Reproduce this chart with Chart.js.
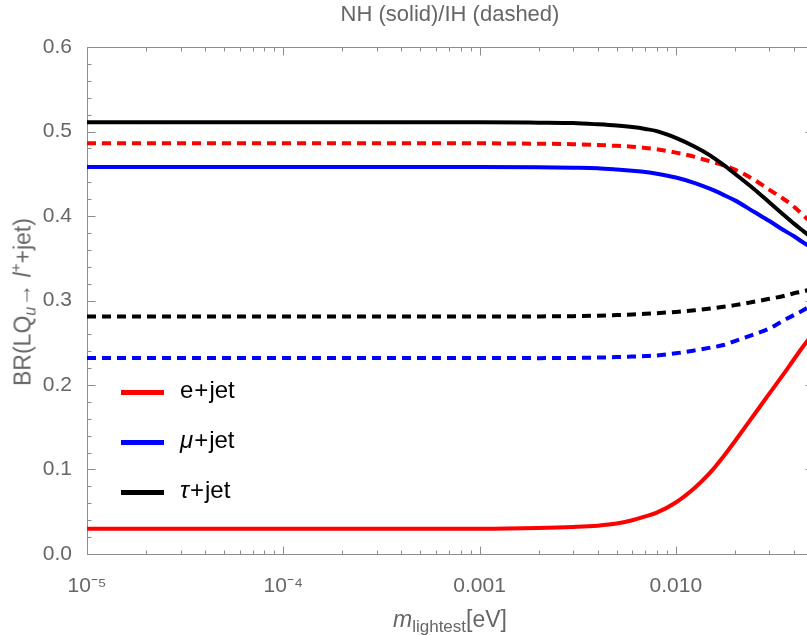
<!DOCTYPE html>
<html>
<head>
<meta charset="utf-8">
<script src="https://cdn.jsdelivr.net/npm/chart.js@4.4.1/dist/chart.umd.min.js"></script>
<style>
html,body{margin:0;padding:0;overflow:hidden;background:#fff;width:807px;height:635px;}
#wrap{position:relative;width:816px;height:635px;}
canvas{display:block;}
.lab{position:absolute;font-family:"Liberation Sans",Arial,sans-serif;color:#666;white-space:nowrap;line-height:1;}
#ylab{left:23px;top:302px;font-size:23px;transform:translate(-50%,-50%) rotate(-90deg);}
#xlab{left:450px;top:621px;font-size:23px;transform:translate(-50%,-50%);}
#xlab sub{font-size:17px;vertical-align:-5px;}
#ylab sub{font-size:16px;vertical-align:-5px;}
#ylab sup{font-size:15px;vertical-align:10px;}
.leg{position:absolute;left:121px;font-family:"Liberation Sans",Arial,sans-serif;font-size:24px;color:#000;height:0;}
.leg span.ln{position:absolute;left:0;top:-2px;width:43px;height:5px;}
.leg span.tx{position:absolute;left:59px;top:-14px;white-space:nowrap;line-height:1;}
.leg b{font-weight:normal;margin:0 1px;}
</style>
</head>
<body>
<div id="wrap">
<canvas id="c" width="816" height="635"></canvas>
<div id="ylab" class="lab">BR(LQ<sub><i>u</i></sub>&#8594; <i>l</i><sup>+</sup>+jet)</div>
<div id="xlab" class="lab"><i>m</i><sub>lightest</sub>[eV]</div>
<div class="leg" style="top:392px"><span class="ln" style="background:#ff0000"></span><span class="tx">e<b>+</b>jet</span></div>
<div class="leg" style="top:442px"><span class="ln" style="background:#0000ff"></span><span class="tx"><i>&#956;</i><b>+</b>jet</span></div>
<div class="leg" style="top:492px"><span class="ln" style="background:#000000"></span><span class="tx"><i>&#964;</i><b>+</b>jet</span></div>
</div>
<script>
// ---- data ----
const mLightest = [1e-5, 1e-4, 1e-3, 2e-3, 3e-3, 4e-3, 5e-3, 6e-3, 7e-3, 8e-3, 0.01, 0.0125, 0.015, 0.0175, 0.02, 0.025, 0.03, 0.035, 0.04, 0.045, 0.05];
// Normal hierarchy (solid)
const nhE   = [0.030, 0.030, 0.030, 0.0308, 0.032, 0.0335, 0.036, 0.040, 0.0445, 0.049, 0.061, 0.0785, 0.0965, 0.1155, 0.1335, 0.1645, 0.190, 0.2113, 0.2305, 0.247, 0.261];
const nhMu  = [0.458, 0.458, 0.458, 0.4578, 0.4572, 0.4565, 0.455, 0.4535, 0.452, 0.450, 0.4455, 0.439, 0.432, 0.425, 0.4185, 0.405, 0.394, 0.384, 0.376, 0.368, 0.362];
const nhTau = [0.511, 0.511, 0.511, 0.5105, 0.510, 0.5085, 0.507, 0.5052, 0.503, 0.5005, 0.4925, 0.482, 0.4715, 0.4605, 0.450, 0.432, 0.416, 0.4025, 0.391, 0.3815, 0.373];
// Inverted hierarchy (dashed)
const ihE   = [0.486, 0.486, 0.486, 0.4855, 0.485, 0.484, 0.483, 0.482, 0.4805, 0.479, 0.475, 0.470, 0.4645, 0.460, 0.455, 0.443, 0.431, 0.421, 0.411, 0.400, 0.391];
const ihMu  = [0.232, 0.232, 0.232, 0.2318, 0.232, 0.2325, 0.233, 0.2337, 0.2343, 0.235, 0.2375, 0.241, 0.2442, 0.2473, 0.252, 0.260, 0.267, 0.2757, 0.2828, 0.289, 0.296];
const ihTau = [0.281, 0.281, 0.281, 0.2812, 0.2815, 0.282, 0.2828, 0.2835, 0.2842, 0.285, 0.2865, 0.2885, 0.2905, 0.2925, 0.2945, 0.2985, 0.302, 0.305, 0.3085, 0.311, 0.314];

// ---- ticks ----
const xMajorTicks = [1e-5, 1e-4, 1e-3, 1e-2];
const xTickLabels = ['10\u207B\u2075', '10\u207B\u2074', '0.001', '0.010'];
const xMinorTicks = [2e-5,3e-5,4e-5,5e-5,6e-5,7e-5,8e-5,9e-5, 2e-4,3e-4,4e-4,5e-4,6e-4,7e-4,8e-4,9e-4, 2e-3,3e-3,4e-3,5e-3,6e-3,7e-3,8e-3,9e-3, 0.02,0.03,0.04,0.05];
const yMajorTicks = [0, 0.1, 0.2, 0.3, 0.4, 0.5, 0.6];
const yMinorTicks = [0.02,0.04,0.06,0.08, 0.12,0.14,0.16,0.18, 0.22,0.24,0.26,0.28, 0.32,0.34,0.36,0.38, 0.42,0.44,0.46,0.48, 0.52,0.54,0.56,0.58];

const pts = ys => mLightest.map((x, i) => ({x: x, y: ys[i]}));
const ds = (label, ys, color, dashed) => ({
  label: label, data: pts(ys), borderColor: color, backgroundColor: color,
  borderWidth: 4, pointRadius: 0, fill: false, cubicInterpolationMode: 'monotone',
  borderDash: dashed ? [9, 6] : [], borderCapStyle: 'butt'
});

const frameTicks = {
  id: 'frameTicks',
  beforeDatasetsDraw(chart) {
    const ctx = chart.ctx, a = chart.chartArea;
    const xs = chart.scales.x, ys = chart.scales.y;
    ctx.save();
    ctx.strokeStyle = '#8c8c8c';
    ctx.lineWidth = 1;
    ctx.beginPath();
    const L = Math.round(a.left) + 0.5, R = Math.round(a.right) + 0.5;
    const T = Math.round(a.top) + 0.5, B = Math.round(a.bottom) + 0.5;
    ctx.rect(L, T, R - L, B - T);
    const xt = (v, len) => {
      const p = Math.round(xs.getPixelForValue(v)) + 0.5;
      ctx.moveTo(p, B); ctx.lineTo(p, B - len);
      ctx.moveTo(p, T); ctx.lineTo(p, T + len);
    };
    const yt = (v, len) => {
      const p = Math.round(ys.getPixelForValue(v)) + 0.5;
      ctx.moveTo(L, p); ctx.lineTo(L + len, p);
      ctx.moveTo(R, p); ctx.lineTo(R - len, p);
    };
    xMajorTicks.forEach(v => xt(v, 8));
    xMinorTicks.forEach(v => xt(v, 4));
    yMajorTicks.forEach(v => yt(v, 8));
    yMinorTicks.forEach(v => yt(v, 4));
    ctx.stroke();
    ctx.restore();
  }
};

const FONT = "'Liberation Sans', Arial, sans-serif";
new Chart(document.getElementById('c'), {
  type: 'line',
  data: {
    datasets: [
      ds('e+jet (NH)', nhE, '#ff0000', false),
      ds('\u03BC+jet (NH)', nhMu, '#0000ff', false),
      ds('\u03C4+jet (NH)', nhTau, '#000000', false),
      ds('e+jet (IH)', ihE, '#ff0000', true),
      ds('\u03BC+jet (IH)', ihMu, '#0000ff', true),
      ds('\u03C4+jet (IH)', ihTau, '#000000', true)
    ]
  },
  options: {
    responsive: false,
    animation: false,
    devicePixelRatio: 1,
    layout: { padding: { left: 0, right: 3, top: 0, bottom: 0 } },
    plugins: {
      legend: { display: false },
      tooltip: { enabled: false },
      title: {
        display: true, fullSize: false,
        text: 'NH (solid)/IH (dashed)',
        color: '#666', font: { family: FONT, size: 22, weight: 'normal' },
        padding: { top: 2, bottom: 18.6 }
      }
    },
    scales: {
      x: {
        type: 'logarithmic', min: 1e-5, max: 0.05,
        grid: { display: false }, border: { display: false },
        afterBuildTicks: s => { s.ticks = xMajorTicks.map(v => ({ value: v, major: true })); },
        afterFit: s => { s.height = 81; },
        ticks: {
          autoSkip: false, maxRotation: 0, padding: 12,
          color: '#666', font: { family: FONT, size: 21 },
          callback: (v) => { const i = xMajorTicks.findIndex(t => Math.abs(t - v) / t < 1e-6); return i >= 0 ? xTickLabels[i] : ''; }
        }
      },
      y: {
        min: 0, max: 0.6,
        grid: { display: false }, border: { display: false },
        afterBuildTicks: s => { s.ticks = yMajorTicks.map(v => ({ value: v })); },
        afterFit: s => { s.width = 87; },
        ticks: {
          padding: 7, color: '#666', font: { family: FONT, size: 21 },
          callback: v => Number(v).toFixed(1)
        }
      }
    }
  },
  plugins: [frameTicks]
});
</script>
</body>
</html>
